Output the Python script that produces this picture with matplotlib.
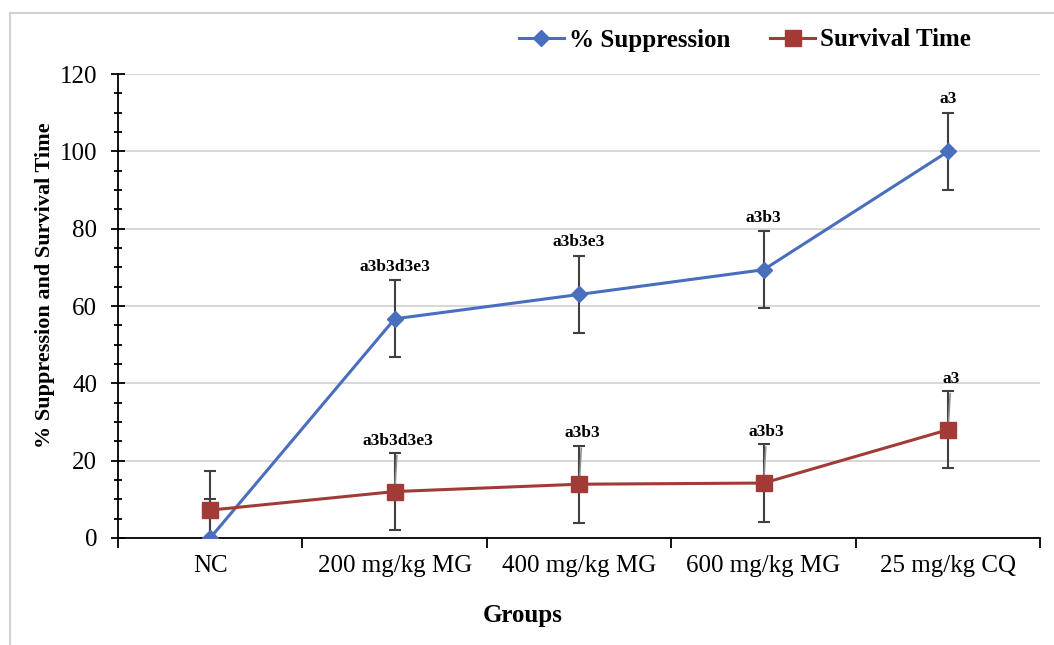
import numpy as np
import matplotlib.pyplot as plt
from matplotlib.patches import Rectangle
from matplotlib.ticker import MultipleLocator, FixedLocator

plt.rcParams['font.family'] = ['Liberation Serif', 'DejaVu Serif']

# data
groups = ['NC', '200 mg/kg MG', '400 mg/kg MG', '600 mg/kg MG', '25 mg/kg CQ']
suppression = [0, 56.7, 63.0, 69.4, 100.0]
supp_err = [10, 10, 10, 10, 10]
survival = [7.2, 12.0, 13.9, 14.2, 28.0]
surv_err = [10, 10, 10, 10, 10]
supp_labels = ['', 'a3b3d3e3', 'a3b3e3', 'a3b3', 'a3']
surv_labels = ['', 'a3b3d3e3', 'a3b3', 'a3b3', 'a3']

blue = '#4A6EBE'
red = '#A23B37'
errc = '#404040'

fig = plt.figure(figsize=(10.54, 6.45), dpi=100)
ax = fig.add_axes([0.112, 0.166, 0.875, 0.719])

# light frame around the chart
fig.patches.append(Rectangle((10 / 1054, -0.1), 1.2, 1 - 13 / 645 + 0.1,
                             transform=fig.transFigure, fill=False,
                             edgecolor='#d0d0d0', lw=1.5))

x = np.arange(len(groups))

ax.errorbar(x, suppression, yerr=supp_err, color=blue, ecolor=errc, elinewidth=1.5,
            capsize=4.5, capthick=1.5, marker='D', markersize=8.5, lw=2.2,
            label='% Suppression', zorder=3)
ax.errorbar(x, survival, yerr=surv_err, color=red, ecolor=errc, elinewidth=1.5,
            capsize=4.5, capthick=1.5, marker='s', markersize=11.5, lw=2.2,
            label='Survival Time', zorder=3)

for i in x:
    if supp_labels[i]:
        ax.annotate(supp_labels[i], (i, suppression[i]), xytext=(0, 52),
                    textcoords='offset pixels', ha='center', va='center',
                    fontsize=12.5, fontweight='bold')
    if surv_labels[i]:
        ax.annotate(surv_labels[i], (i, survival[i]), xytext=(3, 51),
                    textcoords='offset pixels', ha='center', va='center',
                    fontsize=12.5, fontweight='bold',
                    arrowprops=dict(arrowstyle='-', color='#909090', lw=1.2,
                                    shrinkA=3, shrinkB=4))

ax.set_xlim(-0.5, 4.5)
ax.set_ylim(0, 120)
ax.yaxis.set_major_locator(MultipleLocator(20))
ax.yaxis.set_minor_locator(MultipleLocator(5))
ax.grid(axis='y', which='major', color='#d4d4d4', lw=1.3, zorder=0)
ax.set_axisbelow(True)

ax.set_xticks(x)
ax.set_xticklabels(groups)
ax.xaxis.set_minor_locator(FixedLocator(np.arange(-0.5, 5, 1)))
ax.tick_params(axis='x', which='major', length=0, labelsize=18, pad=12)
ax.tick_params(axis='x', which='minor', length=7, width=1.3, direction='out')
ax.tick_params(axis='y', which='major', length=10, width=1.3, direction='inout', labelsize=18, pad=10)
ax.tick_params(axis='y', which='minor', length=6, width=1.3, direction='inout')

for s in ['top', 'right']:
    ax.spines[s].set_visible(False)
for s in ['left', 'bottom']:
    ax.spines[s].set_linewidth(1.3)

ax.set_xlabel('Groups', fontsize=18, fontweight='bold')
ax.xaxis.set_label_coords(0.439, -0.143)
ax.set_ylabel('% Suppression and Survival Time', fontsize=16, fontweight='bold')
ax.yaxis.set_label_coords(-0.068, 0.545)

handles, labels = ax.get_legend_handles_labels()
handles = [h[0] for h in handles]
fig.legend(handles, labels, loc='center', bbox_to_anchor=(745 / 1054, 1 - 40 / 645),
           ncol=2, frameon=False, prop={'size': 18, 'weight': 'bold'},
           handlelength=1.8, columnspacing=1.6, handletextpad=0.2)

fig.savefig('out.png', dpi=100)
